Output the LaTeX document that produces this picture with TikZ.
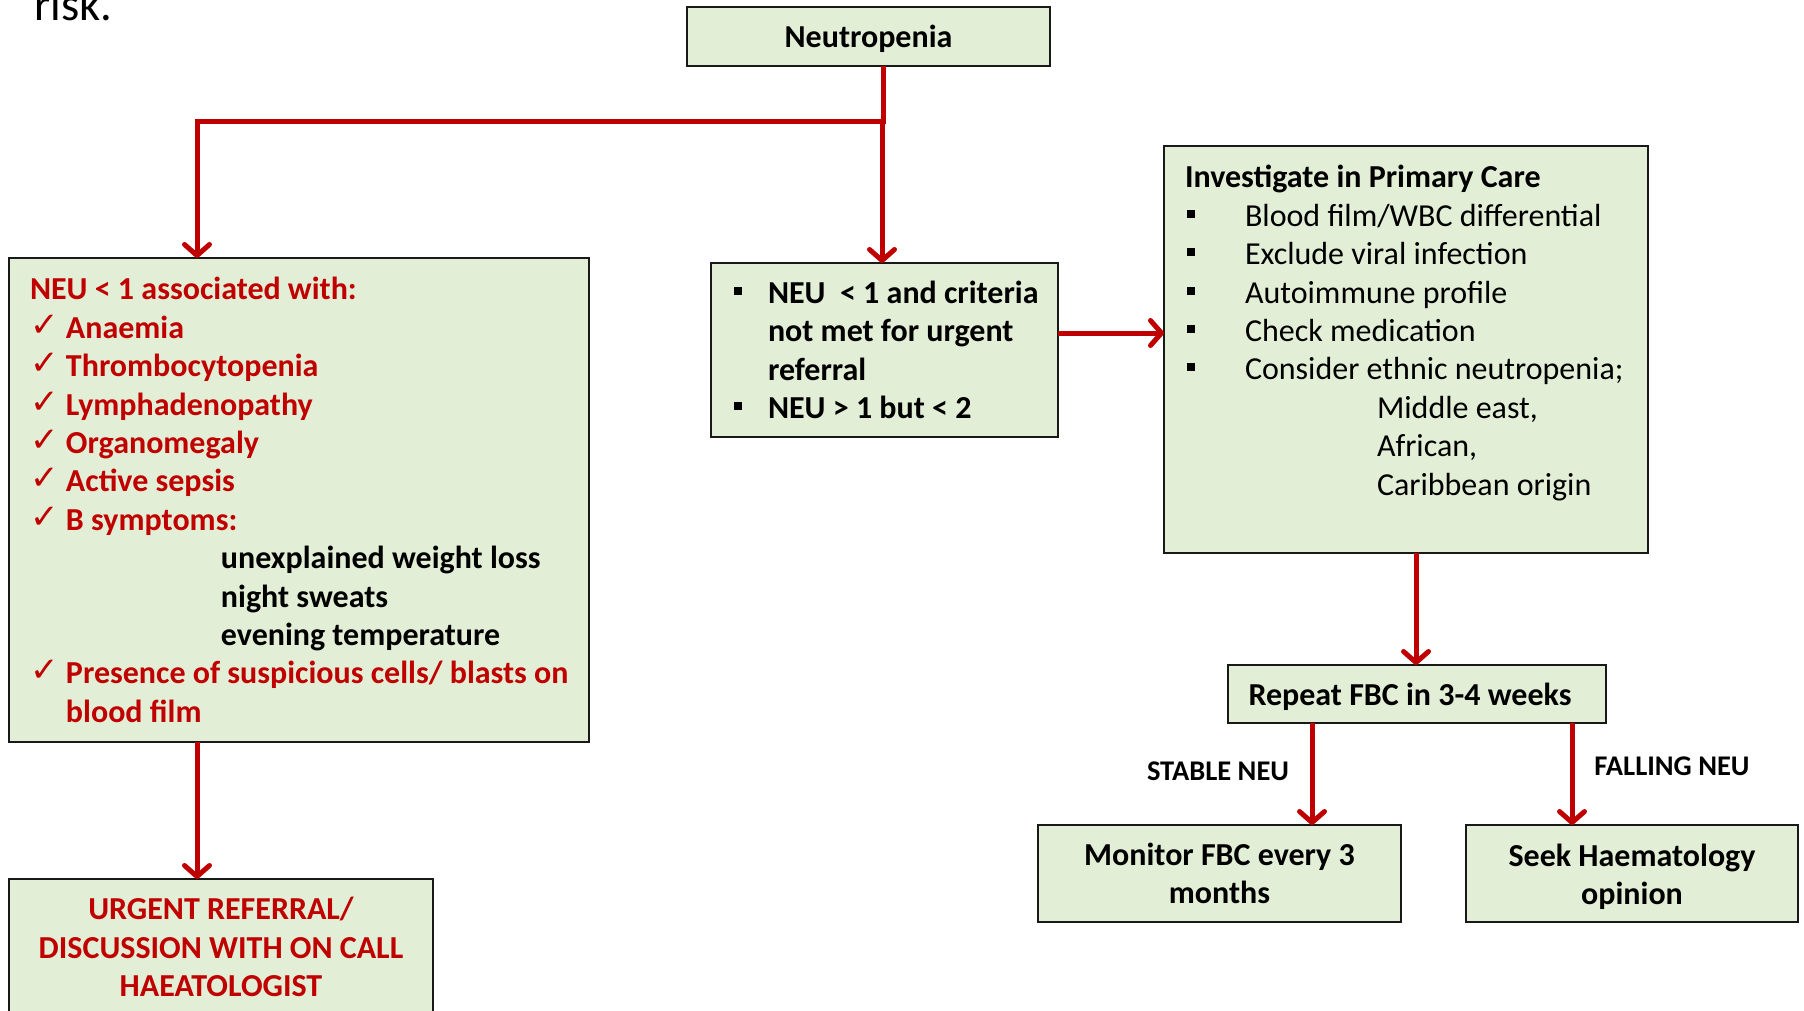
\documentclass[tikz,border=0pt]{standalone}
\usepackage{fontspec}
\setmainfont{Carlito}
\newfontfamily\dejavu{DejaVu Sans}
\usetikzlibrary{arrows.meta}
\definecolor{boxfill}{HTML}{E2EFD6}
\definecolor{darkred}{HTML}{C00000}
\newcommand\bul{\rule[8.5pt]{8pt}{8pt}}
\newcommand\chk{\raisebox{2pt}{\dejavu\mdseries\fontsize{34}{34}\selectfont ✓}}
\newcommand\bigfont{\fontsize{32}{38.4}\selectfont}
\tikzset{
  box/.style={draw=black!90, line width=2pt, fill=boxfill, inner sep=0pt, outer sep=0pt, anchor=north west, font=\bigfont\bfseries},
  cbox/.style={box, align=flush center},
  arr/.style={draw=darkred, line width=5pt, -{Straight Barb[length=11pt,width=25pt,round]}},
  lbl/.style={font=\fontsize{28.5}{34}\selectfont\bfseries, inner sep=0pt},
}
\begin{document}
\begin{tikzpicture}[x=1pt,y=-1pt]
\clip (0,0) rectangle (1804,1010);
\fill[white] (0,0) rectangle (1804,1010);
\node[anchor=base west, inner sep=0pt, font=\fontsize{46.5}{50}\selectfont] (risk) at (34,20) {risk.};

\node[cbox, minimum width=363pt, minimum height=59pt, text width=363pt, text depth=0pt] (neu) at (687,7) {Neutropenia};

\node[box] (left) at (9,258) {\begin{minipage}[c][484pt][c]{580pt}\leftskip=21pt\color{darkred}%
NEU < 1 associated with:\\
\makebox[36pt][l]{\chk}Anaemia\\
\makebox[36pt][l]{\chk}Thrombocytopenia\\
\makebox[36pt][l]{\chk}Lymphadenopathy\\
\makebox[36pt][l]{\chk}Organomegaly\\
\makebox[36pt][l]{\chk}Active sepsis\\
\makebox[36pt][l]{\chk}B symptoms:\\
\hspace*{191pt}{\color{black}unexplained weight loss}\\
\hspace*{191pt}{\color{black}night sweats}\\
\hspace*{191pt}{\color{black}evening temperature}\\
\makebox[36pt][l]{\chk}Presence of suspicious cells/ blasts on\\
\hspace*{36pt}blood film
\end{minipage}};

\node[box] (mid) at (711,263) {\begin{minipage}[c][174pt][c]{347pt}\leftskip=23pt%
\makebox[34pt][l]{\bul}NEU~~< 1 and criteria\\
\hspace*{34pt}not met for urgent\\
\hspace*{34pt}referral\\
\makebox[34pt][l]{\bul}NEU > 1 but < 2
\end{minipage}};

\node[box] (inv) at (1164,146) {\begin{minipage}[c][407pt][t]{484pt}\leftskip=21pt%
\vspace*{15pt}\strut Investigate in Primary Care\\
\mdseries
\hspace*{2pt}\makebox[58pt][l]{\bul}Blood film/WBC differential\\
\hspace*{2pt}\makebox[58pt][l]{\bul}Exclude viral infection\\
\hspace*{2pt}\makebox[58pt][l]{\bul}Autoimmune profile\\
\hspace*{2pt}\makebox[58pt][l]{\bul}Check medication\\
\hspace*{2pt}\makebox[58pt][l]{\bul}Consider ethnic neutropenia;\\
\hspace*{192pt}Middle east,\\
\hspace*{192pt}African,\\
\hspace*{192pt}Caribbean origin
\end{minipage}};

\node[cbox, minimum width=378pt, minimum height=58pt, text width=378pt, text depth=0pt] (rep) at (1228,665) {\hspace*{-14pt}Repeat FBC in 3-4 weeks};

\node[cbox, minimum width=363pt, minimum height=97pt, text width=363pt] (mon) at (1038,825) {Monitor FBC every 3\\months};

\node[cbox, minimum width=332pt, minimum height=97pt, text width=332pt] (seek) at (1466,825) {\rule{0pt}{29pt}Seek Haematology\\opinion};

\node[cbox, minimum width=424pt, minimum height=136pt, text width=424pt, text=darkred] (urg) at (9,879) {URGENT REFERRAL/\\DISCUSSION WITH ON CALL\\HAEATOLOGIST};

\node[lbl] (stable) at (1218,771) {STABLE NEU};
\node[lbl] (falling) at (1672,766) {FALLING NEU};

% connectors
\coordinate (j) at (882,121);
\draw[draw=darkred, line width=5pt] ([xshift=15pt]neu.south) -- ([xshift=15pt,yshift=-2.5pt]neu.south |- j);
\draw[arr] (j) -| ([xshift=188pt]left.north west);
\draw[arr] (j) -- (j |- mid.north);
\draw[arr] (mid.east |- 0,333) -- (inv.west |- 0,333);
\draw[arr] (inv.south -| 1416,0) -- (rep.north -| 1416,0);
\draw[arr] ([xshift=84pt]rep.south west) -- ([xshift=84pt]rep.south west |- mon.north);
\draw[arr] ([xshift=344pt]rep.south west) -- ([xshift=344pt]rep.south west |- seek.north);
\draw[arr] ([xshift=188pt]left.south west) -- ([xshift=188pt]left.south west |- urg.north);
\end{tikzpicture}
\end{document}
